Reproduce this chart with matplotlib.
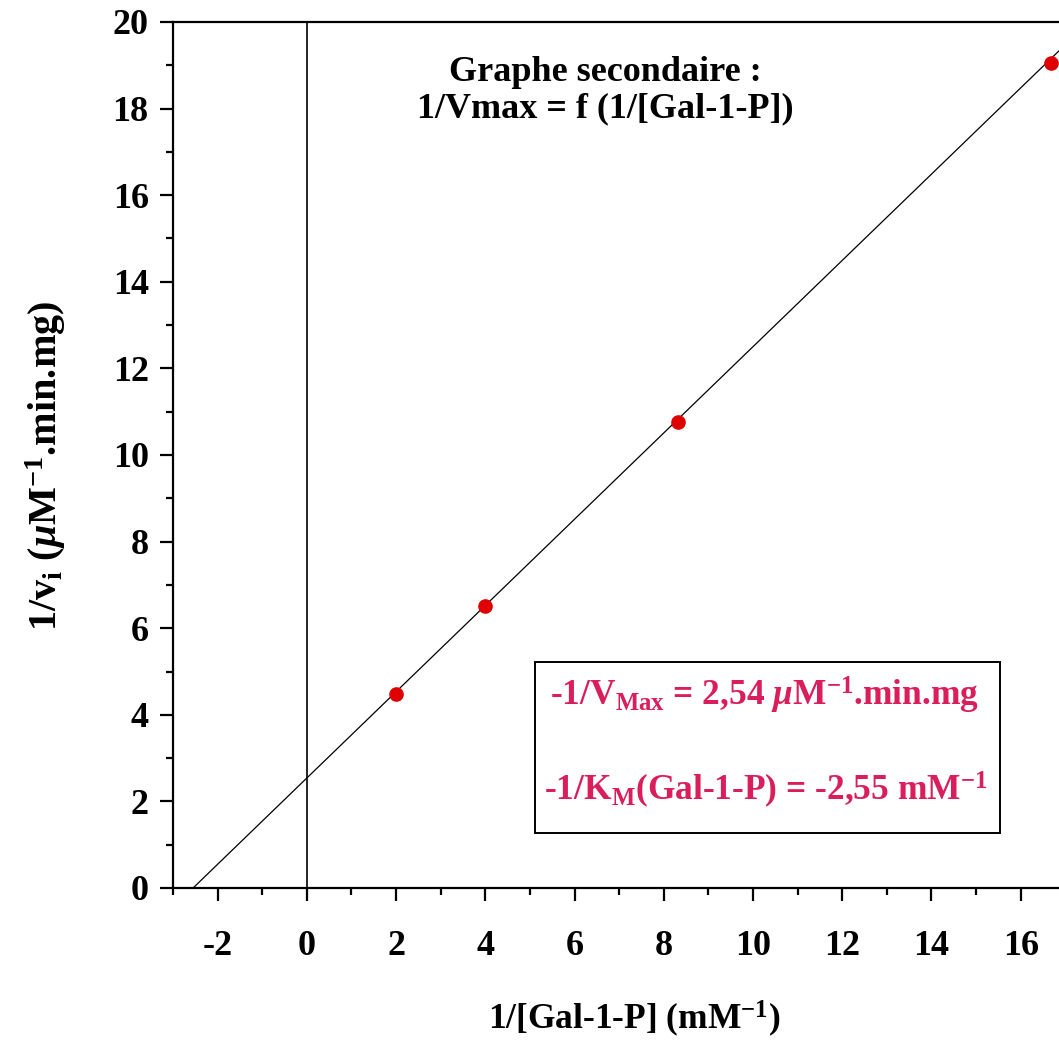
import numpy as np
import matplotlib
matplotlib.use("Agg")
import matplotlib.pyplot as plt
from matplotlib.patches import Rectangle
from matplotlib.ticker import MultipleLocator

# data
inv_s = [2.0, 4.0, 8.33, 16.67]        # 1/[Gal-1-P] (mM-1)
inv_v = [4.49, 6.51, 10.77, 19.06]     # 1/vi
inv_vmax = 2.54                         # y intercept
inv_km = 2.55                           # -x intercept
x_ticks = [-2, 0, 2, 4, 6, 8, 10, 12, 14, 16]
y_ticks = [0, 2, 4, 6, 8, 10, 12, 14, 16, 18, 20]

plt.rcParams['font.family'] = ['Liberation Serif', 'DejaVu Serif']
plt.rcParams['font.weight'] = 'bold'
plt.rcParams['axes.unicode_minus'] = False
plt.rcParams['mathtext.fontset'] = 'custom'
plt.rcParams['mathtext.rm'] = 'Liberation Serif:bold'
plt.rcParams['mathtext.bf'] = 'Liberation Serif:bold'
plt.rcParams['mathtext.it'] = 'Liberation Serif:bold:italic'
plt.rcParams['mathtext.default'] = 'regular'

fig = plt.figure(figsize=(10.59, 10.48), dpi=100)
ax = fig.add_axes([173 / 1059, 1 - 888 / 1048, 886 / 1059, 866 / 1048])

ax.set_xlim(-3, 16.86)
ax.set_ylim(0, 20)

# fitted line
slope = inv_vmax / inv_km
xl = np.array([-inv_km, 17.5])
ax.plot(xl, slope * xl + inv_vmax, color='black', lw=0.9, zorder=2)
ax.axvline(0, color='black', lw=1.2, zorder=1)
ax.plot(inv_s, inv_v, 'o', color='#e00000', ms=9.5, zorder=3, clip_on=False)

for s in ['left', 'bottom', 'top']:
    ax.spines[s].set_linewidth(1.6)
ax.spines['right'].set_visible(False)

ax.set_xticks(x_ticks)
ax.set_yticks(y_ticks)
ax.xaxis.set_minor_locator(MultipleLocator(1))
ax.yaxis.set_minor_locator(MultipleLocator(1))
ax.tick_params(axis='both', which='major', length=9.5, width=1.6, direction='out', labelsize=26)
ax.tick_params(axis='both', which='minor', length=5, width=1.6, direction='out')
ax.tick_params(axis='x', which='major', pad=21)
ax.tick_params(axis='y', which='major', pad=8)
for lab in ax.get_xticklabels() + ax.get_yticklabels():
    lab.set_fontweight('bold')

ax.set_xlabel(r'1/[Gal-1-P] (mM$^{-1}$)', fontsize=25.5, fontweight='bold')
ax.xaxis.set_label_coords(0.52, -0.128)
ax.set_ylabel(r'1/v$_{i}$ ($\mathit{\mu}$M$^{-1}$.min.mg)', fontsize=29, fontweight='bold')
ax.yaxis.set_label_coords(-0.118, 0.488)

ax.text(0.488, 0.921, 'Graphe secondaire :\n1/Vmax = f (1/[Gal-1-P])', transform=ax.transAxes,
        ha='center', va='center', fontsize=26, fontweight='bold', linespacing=1.15)

# result box
pink = '#d91e5b'
ax.add_patch(Rectangle((0.4086, 0.0635), 0.525, 0.197, transform=ax.transAxes,
                       fill=False, edgecolor='black', lw=1.4, zorder=4))
ax.text(0.667, 0.222, r'-1/V$_{Max}$ = 2,54 $\mathit{\mu}$M$^{-1}$.min.mg', transform=ax.transAxes,
        ha='center', va='center', fontsize=25.5, fontweight='bold', color=pink)
ax.text(0.669, 0.113, r'-1/K$_{M}$(Gal-1-P) = -2,55 mM$^{-1}$', transform=ax.transAxes,
        ha='center', va='center', fontsize=25.5, fontweight='bold', color=pink)

fig.savefig('out.png', dpi=100)
